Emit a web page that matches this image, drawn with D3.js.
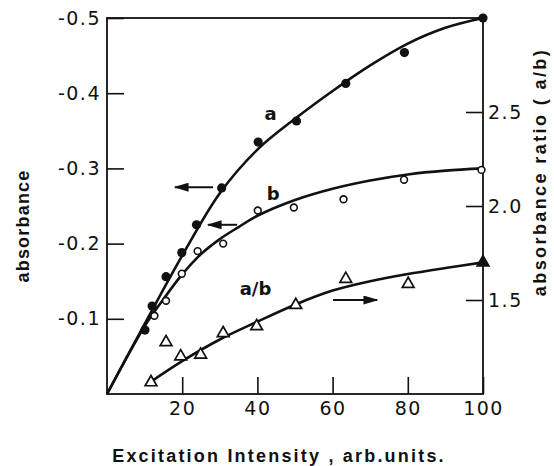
<!DOCTYPE html>
<html>
<head>
<meta charset="utf-8">
<script src="https://cdn.jsdelivr.net/npm/d3@7"></script>
<style>
html, body { margin: 0; padding: 0; background: #fff; }
svg { display: block; }
</style>
</head>
<body>
<svg id="chart" width="554" height="466"></svg>
<script>
// ---------- data ----------
const xTicks = [20, 40, 60, 80, 100];
const leftTicks = [0.1, 0.2, 0.3, 0.4, 0.5];
const rightTicks = [1.5, 2.0, 2.5];

// series a (filled circles): intensity, |absorbance|
const aX = [10.1, 12.0, 15.7, 19.9, 23.8, 30.5, 40.2, 50.4, 63.5, 79.1, 100];
const aY = [0.085, 0.117, 0.156, 0.188, 0.225, 0.274, 0.335, 0.363, 0.413, 0.454, 0.50];
// series b (open circles)
const bX = [12.6, 15.7, 19.9, 24.1, 30.9, 40.1, 49.7, 62.9, 79.0, 99.6];
const bY = [0.104, 0.124, 0.160, 0.190, 0.200, 0.244, 0.248, 0.259, 0.285, 0.298];
// ratio a/b (triangles), right axis
const rX = [11.7, 15.7, 19.6, 24.9, 30.9, 39.8, 50.2, 63.5, 80.1, 100];
const rY = [1.062, 1.275, 1.200, 1.209, 1.323, 1.360, 1.473, 1.612, 1.585, 1.700];

// fitted curves
const fitAX = [0, 10, 20, 30, 40, 50, 60, 70, 80, 90, 100];
const fitAY = [0, 0.093, 0.184, 0.267, 0.325, 0.366, 0.403, 0.437, 0.466, 0.487, 0.50];
const fitBX = [0, 10, 15, 20, 25, 30, 35, 40, 50, 60, 70, 80, 90, 100];
const fitBY = [0, 0.09, 0.126, 0.159, 0.186, 0.206, 0.222, 0.237, 0.258, 0.273, 0.284, 0.292, 0.297, 0.30];
const fitRX = [12, 20, 30, 40, 50, 60, 70, 80, 90, 100];
const fitRY = [1.07, 1.175, 1.29, 1.385, 1.475, 1.55, 1.60, 1.638, 1.67, 1.70];

// annotation arrows: [xFrom, xTo, y, axis]
const arrows = [
  [28.2, 18.1, 0.275, "left"],
  [34.6, 26.9, 0.225, "left"],
  [60.1, 71.8, 1.50, "right"]
];
const curveLabels = [["a", 43.5, 0.373, "left"], ["b", 44.2, 0.266, "left"], ["a/b", 39.5, 1.56, "right"]];

// ---------- drawing ----------
const svg = d3.select("#chart");
const L = 107, R = 483, T = 18, B = 394;
const x = d3.scaleLinear().domain([0, 100]).range([L, R]);
const yL = d3.scaleLinear().domain([0, 0.5]).range([B, T]);
const yR = d3.scaleLinear().domain([1, 3]).range([B, T]);

const ink = "#111";
const tickFont = "'DejaVu Sans', sans-serif";

// frame
svg.append("rect").attr("x", L).attr("y", T).attr("width", R - L).attr("height", B - T)
  .attr("fill", "none").attr("stroke", ink).attr("stroke-width", 1.8);

// axes (ticks inward)
const xAxis = d3.axisBottom(x).tickValues(xTicks).tickSizeInner(-17).tickSizeOuter(0).tickPadding(24);
const gx = svg.append("g").attr("transform", `translate(0,${B})`).call(xAxis);
const lAxis = d3.axisLeft(yL).tickValues(leftTicks).tickSizeInner(-17).tickSizeOuter(0).tickPadding(24)
  .tickFormat(d => "-" + d3.format(".1f")(d));
const gl = svg.append("g").attr("transform", `translate(${L},0)`).call(lAxis);
const rAxis = d3.axisRight(yR).tickValues(rightTicks).tickSizeInner(-17).tickSizeOuter(0).tickPadding(22)
  .tickFormat(d3.format(".1f"));
const gr = svg.append("g").attr("transform", `translate(${R},0)`).call(rAxis);

[gx, gl, gr].forEach(g => {
  g.select(".domain").remove();
  g.selectAll(".tick line").attr("stroke", ink).attr("stroke-width", 1.6);
  g.selectAll(".tick text").attr("fill", ink).style("font-family", tickFont)
    .style("font-size", "19px").style("letter-spacing", "1.5px");
});
gx.selectAll(".tick text").attr("dy", "0.71em").attr("y", 8);
gl.selectAll(".tick text").attr("x", -6);
gr.selectAll(".tick text").attr("x", 5);

// curves
const line = d3.line().curve(d3.curveCatmullRom.alpha(0.5));
function drawCurve(xs, ys, yScale) {
  svg.append("path").attr("d", line(xs.map((v, i) => [x(v), yScale(ys[i])])))
    .attr("fill", "none").attr("stroke", ink).attr("stroke-width", 2.6);
}
drawCurve(fitAX, fitAY, yL);
drawCurve(fitBX, fitBY, yL);
drawCurve(fitRX, fitRY, yR);

// markers
svg.append("g").selectAll("circle").data(aX).join("circle")
  .attr("cx", d => x(d)).attr("cy", (d, i) => yL(aY[i])).attr("r", 4.6).attr("fill", ink);
svg.append("g").selectAll("circle").data(bX).join("circle")
  .attr("cx", d => x(d)).attr("cy", (d, i) => yL(bY[i])).attr("r", 3.4)
  .attr("fill", "#fff").attr("stroke", ink).attr("stroke-width", 1.6);
const tri = d3.symbol().type(d3.symbolTriangle).size(60);
svg.append("g").selectAll("path").data(rX).join("path")
  .attr("transform", (d, i) => `translate(${x(d)},${yR(rY[i])})`)
  .attr("d", tri)
  .attr("fill", (d, i) => i === rX.length - 1 ? ink : "#fff")
  .attr("stroke", ink).attr("stroke-width", 1.7);

// arrows
svg.append("defs").append("marker").attr("id", "head").attr("viewBox", "0 0 10 10")
  .attr("preserveAspectRatio", "none")
  .attr("refX", 9).attr("refY", 5).attr("markerWidth", 15).attr("markerHeight", 9)
  .attr("markerUnits", "userSpaceOnUse").attr("orient", "auto")
  .append("path").attr("d", "M0,0 L10,5 L0,10 Z").attr("fill", ink);
arrows.forEach(([x0, x1, yv, ax]) => {
  const ys = ax === "left" ? yL : yR;
  svg.append("line").attr("x1", x(x0)).attr("x2", x(x1)).attr("y1", ys(yv)).attr("y2", ys(yv))
    .attr("stroke", ink).attr("stroke-width", 2).attr("marker-end", "url(#head)");
});

// curve labels
curveLabels.forEach(([t, xv, yv, ax]) => {
  const ys = ax === "left" ? yL : yR;
  svg.append("text").attr("x", x(xv)).attr("y", ys(yv)).attr("text-anchor", "middle")
    .attr("dominant-baseline", "central").attr("fill", ink)
    .style("font-family", tickFont).style("font-weight", "bold").style("font-size", "18px").text(t);
});

// axis titles
svg.append("text").attr("x", 279).attr("y", 462).attr("text-anchor", "middle").attr("fill", ink)
  .style("font-family", "'Liberation Sans', sans-serif").style("font-weight", "bold")
  .style("font-size", "18px").style("letter-spacing", "2.2px")
  .text("Excitation Intensity , arb.units.");
svg.append("text").attr("transform", "translate(23,226) rotate(-90)").attr("text-anchor", "middle")
  .attr("dominant-baseline", "central").attr("fill", ink)
  .style("font-family", "'Liberation Sans', sans-serif").style("font-weight", "bold")
  .style("font-size", "18px").style("letter-spacing", "1.2px").text("absorbance");
svg.append("text").attr("transform", "translate(540,172) rotate(-90)").attr("text-anchor", "middle")
  .attr("dominant-baseline", "central").attr("fill", ink)
  .style("font-family", "'Liberation Sans', sans-serif").style("font-weight", "bold")
  .style("font-size", "18px").style("letter-spacing", "2.4px").text("absorbance ratio ( a/b)");
</script>
</body>
</html>
